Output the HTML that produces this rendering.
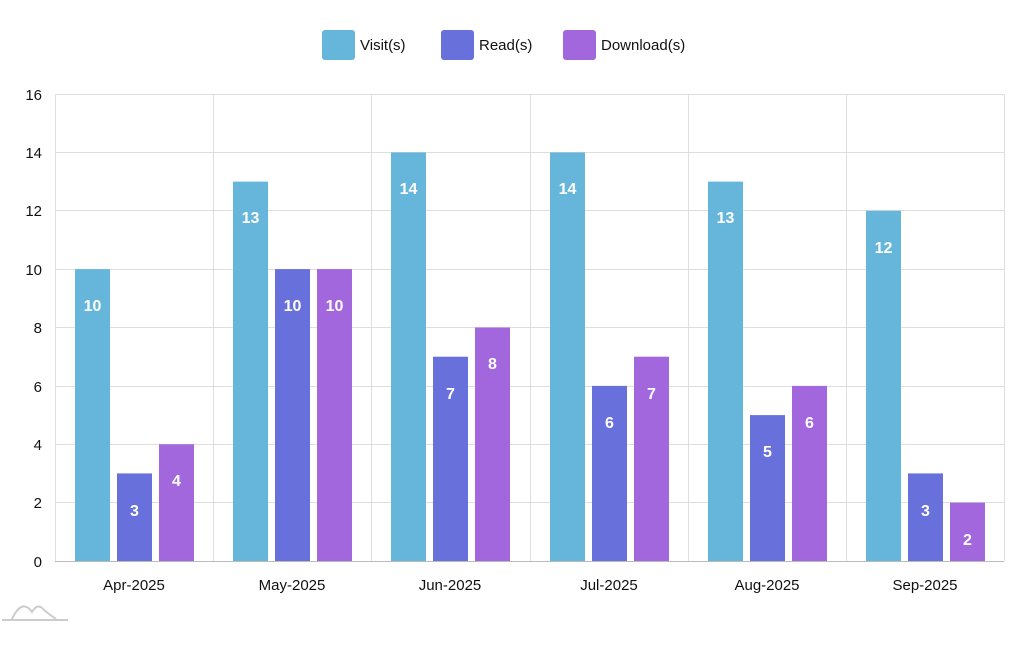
<!DOCTYPE html>
<html><head><meta charset="utf-8"><style>
html,body{margin:0;padding:0;background:#fff;}
svg{display:block;font-family:"Liberation Sans Narrow","Liberation Sans",sans-serif;}
</style></head><body>
<svg width="1015" height="647" viewBox="0 0 1015 647" xmlns="http://www.w3.org/2000/svg">
<g font-size="15" fill="#111">
<rect x="322" y="30" width="33" height="30" rx="3" fill="#66b6dc"/><text x="360" y="50">Visit(s)</text>
<rect x="441" y="30" width="33" height="30" rx="3" fill="#6870db"/><text x="479" y="50">Read(s)</text>
<rect x="563" y="30" width="33" height="30" rx="3" fill="#a267dc"/><text x="601" y="50">Download(s)</text>
</g>
<g stroke="#dedede" stroke-width="1">
<line x1="55" y1="94.5" x2="1004" y2="94.5"/><line x1="55" y1="152.5" x2="1004" y2="152.5"/>
<line x1="55" y1="210.5" x2="1004" y2="210.5"/><line x1="55" y1="269.5" x2="1004" y2="269.5"/>
<line x1="55" y1="327.5" x2="1004" y2="327.5"/><line x1="55" y1="386.5" x2="1004" y2="386.5"/>
<line x1="55" y1="444.5" x2="1004" y2="444.5"/><line x1="55" y1="502.5" x2="1004" y2="502.5"/>
<line x1="55.5" y1="94" x2="55.5" y2="561"/><line x1="213.5" y1="94" x2="213.5" y2="561"/>
<line x1="371.5" y1="94" x2="371.5" y2="561"/><line x1="530.5" y1="94" x2="530.5" y2="561"/>
<line x1="688.5" y1="94" x2="688.5" y2="561"/><line x1="846.5" y1="94" x2="846.5" y2="561"/>
<line x1="1004.5" y1="94" x2="1004.5" y2="561"/>
</g>
<line x1="55" y1="561.5" x2="1004" y2="561.5" stroke="#bbb"/>
<g font-size="15" fill="#111" text-anchor="end">
<text x="42" y="100">16</text><text x="42" y="158">14</text><text x="42" y="216">12</text><text x="42" y="275">10</text>
<text x="42" y="333">8</text><text x="42" y="392">6</text><text x="42" y="450">4</text><text x="42" y="508">2</text><text x="42" y="567">0</text>
</g>
<g font-size="15" fill="#111" text-anchor="middle">
<text x="134" y="590">Apr-2025</text><text x="292" y="590">May-2025</text><text x="450" y="590">Jun-2025</text>
<text x="609" y="590">Jul-2025</text><text x="767" y="590">Aug-2025</text><text x="925" y="590">Sep-2025</text>
</g>
<g>
<rect x="75" y="269.1" width="35" height="291.9" fill="#66b6dc"/>
<rect x="117" y="473.4" width="35" height="87.6" fill="#6870db"/>
<rect x="159" y="444.25" width="35" height="116.75" fill="#a267dc"/>
<rect x="233" y="181.6" width="35" height="379.4" fill="#66b6dc"/>
<rect x="275" y="269.1" width="35" height="291.9" fill="#6870db"/>
<rect x="317" y="269.1" width="35" height="291.9" fill="#a267dc"/>
<rect x="391" y="152.4" width="35" height="408.6" fill="#66b6dc"/>
<rect x="433" y="356.7" width="35" height="204.3" fill="#6870db"/>
<rect x="475" y="327.5" width="35" height="233.5" fill="#a267dc"/>
<rect x="550" y="152.4" width="35" height="408.6" fill="#66b6dc"/>
<rect x="592" y="385.9" width="35" height="175.1" fill="#6870db"/>
<rect x="634" y="356.7" width="35" height="204.3" fill="#a267dc"/>
<rect x="708" y="181.6" width="35" height="379.4" fill="#66b6dc"/>
<rect x="750" y="415.1" width="35" height="145.9" fill="#6870db"/>
<rect x="792" y="385.9" width="35" height="175.1" fill="#a267dc"/>
<rect x="866" y="210.75" width="35" height="350.25" fill="#66b6dc"/>
<rect x="908" y="473.4" width="35" height="87.6" fill="#6870db"/>
<rect x="950" y="502.6" width="35" height="58.4" fill="#a267dc"/>
</g>
<g fill="#fff" font-size="16" font-weight="bold" text-anchor="middle">
<text x="92.5" y="311">10</text><text x="134.5" y="516">3</text><text x="176.5" y="486">4</text>
<text x="250.5" y="223">13</text><text x="292.5" y="311">10</text><text x="334.5" y="311">10</text>
<text x="408.5" y="194">14</text><text x="450.5" y="399">7</text><text x="492.5" y="369">8</text>
<text x="567.5" y="194">14</text><text x="609.5" y="428">6</text><text x="651.5" y="399">7</text>
<text x="725.5" y="223">13</text><text x="767.5" y="457">5</text><text x="809.5" y="428">6</text>
<text x="883.5" y="253">12</text><text x="925.5" y="516">3</text><text x="967.5" y="545">2</text>
</g>
<g fill="none" stroke="#ccc" stroke-width="2"><path d="M2 620 L68 620"/><path d="M12 619 Q22 598 32 612 Q38 602 44 610 Q50 615 56 619"/></g>
</svg>
</body></html>
